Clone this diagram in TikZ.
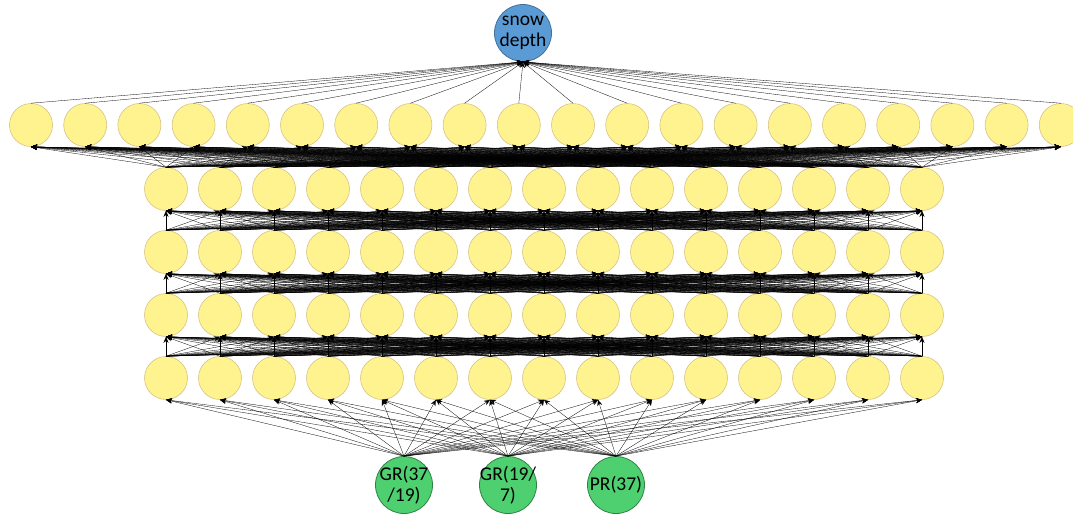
\documentclass[tikz,border=0pt]{standalone}
\usepackage{fontspec}
\setmainfont{Carlito}
\usetikzlibrary{arrows.meta}
\definecolor{unitfill}{RGB}{255,243,143}
\definecolor{unitdraw}{RGB}{215,195,130}
\definecolor{outfill}{RGB}{91,155,213}
\definecolor{outdraw}{RGB}{65,113,156}
\definecolor{infill}{RGB}{78,208,112}
\definecolor{indraw}{RGB}{48,130,70}
\tikzset{
    unit/.style = {circle,draw=unitdraw,fill=unitfill,line width=0.6pt,minimum size=43pt,inner sep=0pt},
    outunit/.style = {circle,draw=outdraw,fill=outfill,line width=0.8pt,minimum size=57pt,inner sep=0pt},
    inunit/.style = {circle,draw=indraw,fill=infill,line width=0.8pt,minimum size=57pt,inner sep=0pt},
    unitname/.style = {font=\fontsize{19.5}{21}\selectfont,align=center,text=black,inner sep=0pt},
    wire/.style = {draw=black,line width=0.3pt,-{Stealth[length=6pt,width=5pt]}}}

\begin{document}
\begin{tikzpicture}[x=1pt,y=-1pt]
    \clip (0,0) rectangle (1073,515);
    % output unit
    \node[outunit,label={[unitname]center:{snow\\depth}}] (out) at (523,33) {};
    % layer of 20
    \foreach \i in {1,...,20}
        \node[unit] (d\i) at ({31+54.2*(\i-1)},125) {};
    % four layers of 15
    \foreach \l/\y in {1/189,2/252,3/315,4/378}
        \foreach \j in {1,...,15}
            \node[unit] (h\l-\j) at ({166+54*(\j-1)},\y) {};
    % inputs
    \node[inunit,label={[unitname]center:{GR(37\\/19)}}] (in1) at (404,485) {};
    \node[inunit,label={[unitname]center:{GR(19/\\7)}}] (in2) at (508,485) {};
    \node[inunit,label={[unitname]center:{PR(37)}}] (in3) at (616,485) {};
    % connections
    \foreach \i in {1,...,20}
        \draw[wire] (d\i.north) -- (out.south);
    \foreach \i in {1,...,20}
        \foreach \j in {1,...,15}
            \draw[wire] (h1-\j.north) -- (d\i.south);
    \foreach \l [evaluate=\l as \m using int(\l+1)] in {1,2,3}
        \foreach \j in {1,...,15}
            \foreach \k in {1,...,15}
                \draw[wire] (h\m-\j.north) -- (h\l-\k.south);
    \foreach \n in {1,2,3}
        \foreach \k in {1,...,15}
            \draw[wire] (in\n.north) -- (h4-\k.south);
\end{tikzpicture}
\end{document}
